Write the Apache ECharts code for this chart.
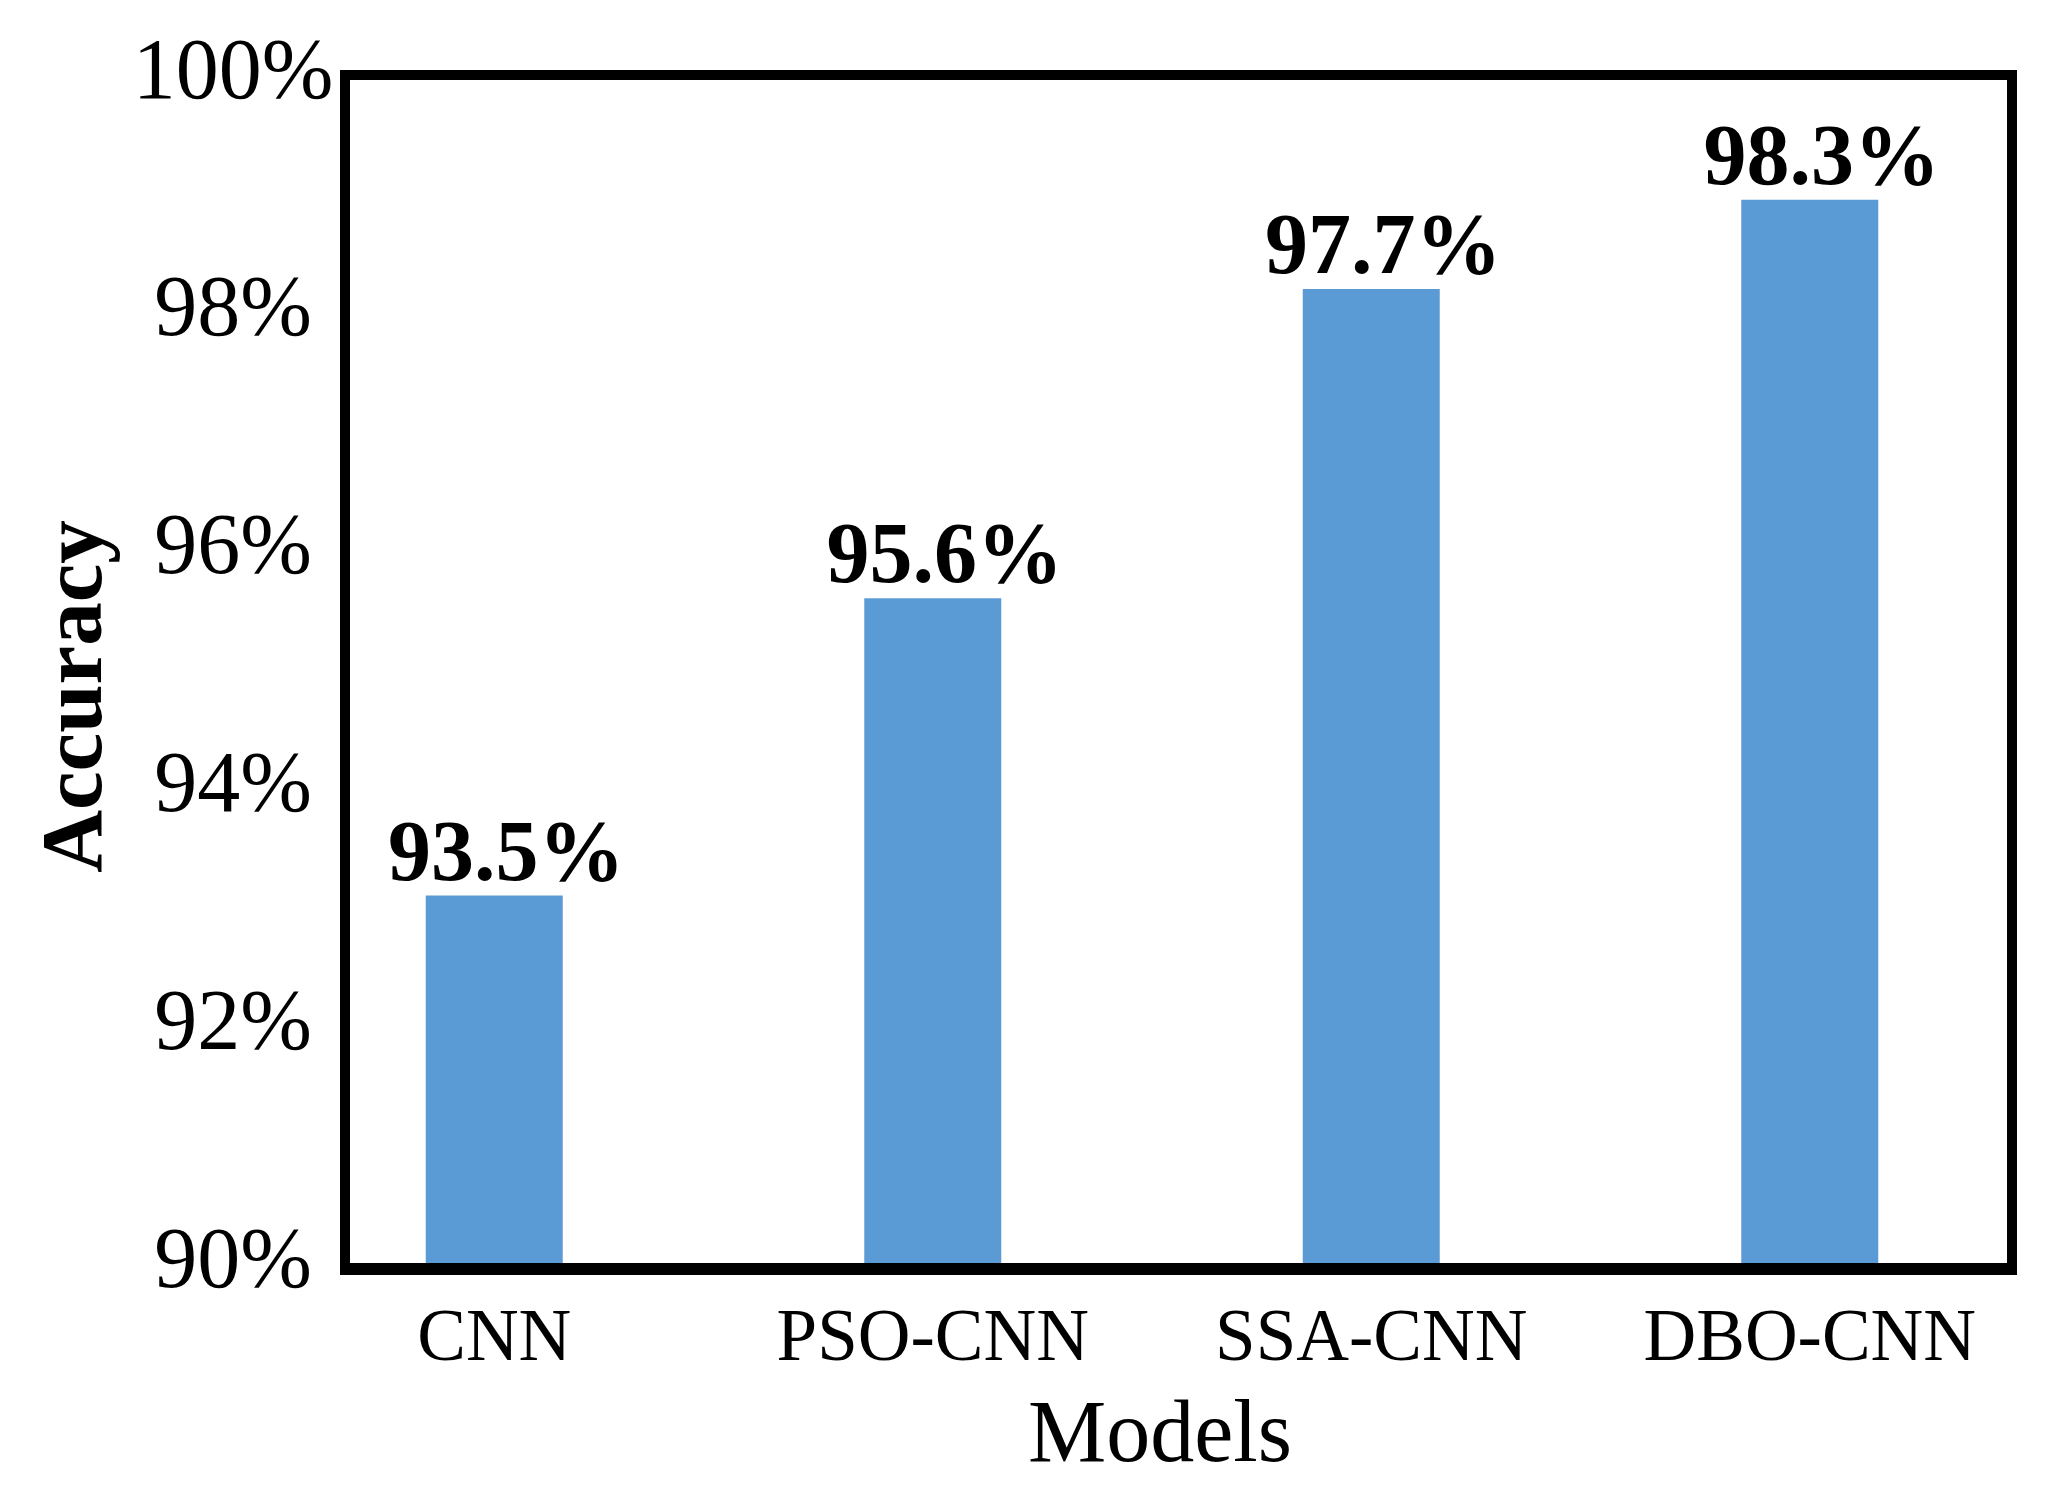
<!DOCTYPE html>
<html>
<head>
<meta charset="utf-8">
<script src="https://cdn.jsdelivr.net/npm/echarts@6/dist/echarts.min.js"></script>
<style>
html,body{margin:0;padding:0;background:#fff;}
#chart{width:2055px;height:1511px;}
</style>
</head>
<body>
<div id="chart"></div>
<script>
const categories = ['CNN', 'PSO-CNN', 'SSA-CNN', 'DBO-CNN'];
const barValues = [93.1, 95.6, 98.2, 98.95];
const barLabels = ['93.5%', '95.6%', '97.7%', '98.3%'];
const yTicks = [90, 92, 94, 96, 98, 100];

const FONT = "'Liberation Serif', 'Times New Roman', serif";
const chart = echarts.init(document.getElementById('chart'), null, {renderer: 'canvas'});

const option = {
  backgroundColor: '#ffffff',
  animation: false,
  grid: {left: 275, right: 26, top: 75, bottom: 247, containLabel: false},
  xAxis: {
    type: 'category',
    data: categories,
    boundaryGap: true,
    axisLine: {show: false},
    axisTick: {show: false},
    splitLine: {show: false},
    axisLabel: {
      margin: 40,
      color: '#000',
      fontFamily: FONT,
      fontSize: 73
    },
    name: 'Models',
    nameLocation: 'middle',
    nameGap: 130,
    nameTextStyle: {color: '#000', fontFamily: FONT, fontSize: 88, padding: [0, 0, 0, 16]}
  },
  yAxis: {
    type: 'value',
    min: yTicks[0],
    max: yTicks[yTicks.length - 1],
    interval: yTicks[1] - yTicks[0],
    axisLine: {show: false},
    axisTick: {show: false},
    splitLine: {show: false},
    axisLabel: {
      margin: 42,
      align: 'center',
      color: '#000',
      fontFamily: FONT,
      fontSize: 86,
      padding: [0, 0, 10, 0],
      formatter: '{value}%'
    },
    name: 'Accuracy',
    nameLocation: 'middle',
    nameGap: 150,
    nameTextStyle: {color: '#000', fontFamily: FONT, fontSize: 87, fontWeight: 'bold', padding: [0, 54, 0, 0]}
  },
  series: [{
    type: 'bar',
    data: barValues,
    barWidth: 137,
    itemStyle: {color: '#5B9BD5'},
    label: {
      show: true,
      position: 'top',
      distance: -5,
      offset: [12, 0],
      color: '#000',
      fontFamily: FONT,
      fontSize: 86,
      fontWeight: 'bold',
      formatter: function (p) { return barLabels[p.dataIndex]; }
    }
  }],
  graphic: [
    {type: 'rect', z: 100, silent: true,
     shape: {x: 345, y: 75, width: 1667, height: 1194},
     style: {fill: 'none', stroke: '#000', lineWidth: 10}},
    {type: 'line', z: 101, silent: true,
     shape: {x1: 340, y1: 1269, x2: 2017, y2: 1269},
     style: {stroke: '#000', lineWidth: 12}}
  ]
};
chart.setOption(option);
</script>
</body>
</html>
